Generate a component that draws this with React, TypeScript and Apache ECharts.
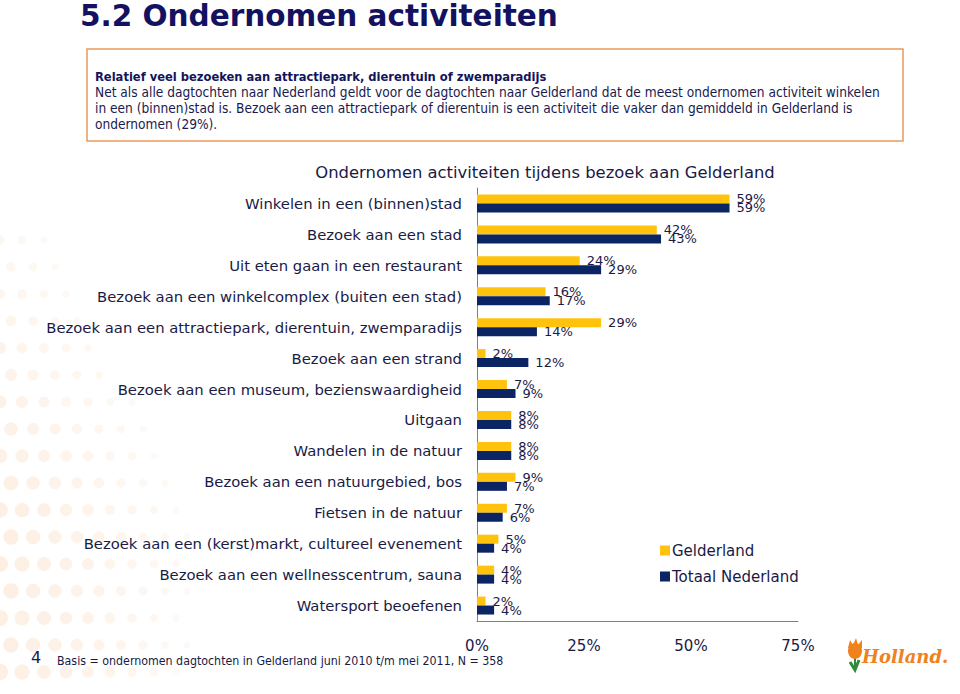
import React, { useEffect, useRef } from "react";
import * as echarts from "echarts";

const categories = [
  "Winkelen in een (binnen)stad",
  "Bezoek aan een stad",
  "Uit eten gaan in een restaurant",
  "Bezoek aan een winkelcomplex (buiten een stad)",
  "Bezoek aan een attractiepark, dierentuin, zwemparadijs",
  "Bezoek aan een strand",
  "Bezoek aan een museum, bezienswaardigheid",
  "Uitgaan",
  "Wandelen in de natuur",
  "Bezoek aan een natuurgebied, bos",
  "Fietsen in de natuur",
  "Bezoek aan een (kerst)markt, cultureel evenement",
  "Bezoek aan een wellnesscentrum, sauna",
  "Watersport beoefenen",
];
const gelderland = [59, 42, 24, 16, 29, 2, 7, 8, 8, 9, 7, 5, 4, 2];
const totaalNederland = [59, 43, 29, 17, 14, 12, 9, 8, 8, 7, 6, 4, 4, 4];
const seriesNames = ["Gelderland", "Totaal Nederland"];
const xMin = 0;
const xMax = 75;
const xInterval = 25;

const pageTitle = "5.2 Ondernomen activiteiten";
const boxHeading = "Relatief veel bezoeken aan attractiepark, dierentuin of zwemparadijs";
const boxLines = [
  "Net als alle dagtochten naar Nederland geldt voor de dagtochten naar Gelderland dat de meest ondernomen activiteit winkelen",
  "in een (binnen)stad is. Bezoek aan een attractiepark of dierentuin is een activiteit die vaker dan gemiddeld in Gelderland is",
  "ondernomen (29%).",
];
const chartTitle = "Ondernomen activiteiten tijdens bezoek aan Gelderland";
const footnote = "Basis = ondernomen dagtochten in Gelderland juni 2010 t/m mei 2011, N = 358";
const pageNumber = "4";

const YELLOW = "#FFC30D";
const NAVY = "#0B2464";
const TEXT = "#1a1a45";

function dotPattern() {
  const els: any[] = [];
  // faint decorative dot pattern on the left side of the slide
  for (let r = 0; r < 17; r++) {
    for (let c = 0; c < 10; c++) {
      const x = c * 22 + (r % 2) * 11;
      const y = 240 + r * 27;
      const fade = Math.max(0, 1 - x / 210 - Math.max(0, 520 - y) / 420);
      if (fade <= 0.08) continue;
      els.push({
        type: "circle",
        silent: true,
        z: -10,
        shape: { cx: x, cy: y, r: 3 + 5 * fade },
        style: { fill: "#FBE1CB", opacity: 0.15 + 0.4 * fade },
      });
    }
  }
  return els;
}

export default function App() {
  const ref = useRef<HTMLDivElement>(null);
  useEffect(() => {
    const chart = echarts.init(ref.current!, null, { renderer: "svg" });
    const boxFont = "'DejaVu Sans Condensed', 'Liberation Sans', sans-serif";
    const sans = "'DejaVu Sans', Verdana, sans-serif";
    const graphics: any[] = [
      ...dotPattern(),
      {
        type: "text",
        x: 80,
        y: 16,
        style: {
          text: pageTitle,
          font: `bold 29.5px ${sans}`,
          fill: "#121260",
          verticalAlign: "middle",
        },
      },
      {
        type: "rect",
        shape: { x: 87, y: 49, width: 816, height: 92 },
        style: { fill: "#ffffff", stroke: "#E99B5C", lineWidth: 1.5 },
      },
      {
        type: "text",
        x: 95,
        y: 76,
        style: {
          text: boxHeading,
          font: `bold 12.8px ${boxFont}`,
          fill: "#14145a",
          verticalAlign: "middle",
        },
      },
      ...boxLines.map((t, i) => ({
        type: "text",
        x: 95,
        y: 92 + i * 16,
        style: {
          text: t,
          font: `13.6px ${boxFont}`,
          fill: "#1a1a50",
          verticalAlign: "middle",
        },
      })),
      {
        type: "text",
        x: 545,
        y: 172,
        style: {
          text: chartTitle,
          font: `16.4px ${sans}`,
          fill: TEXT,
          align: "center",
          verticalAlign: "middle",
        },
      },
      {
        type: "text",
        x: 31,
        y: 657,
        style: {
          text: pageNumber,
          font: `16px ${sans}`,
          fill: TEXT,
          verticalAlign: "middle",
        },
      },
      {
        type: "text",
        x: 57,
        y: 661,
        style: {
          text: footnote,
          font: `12.3px ${boxFont}`,
          fill: TEXT,
          verticalAlign: "middle",
        },
      },
      // Holland logo
      {
        type: "group",
        x: 846,
        y: 636,
        children: [
          { type: "polyline", shape: { points: [[4, 26], [9, 34], [13, 24]] }, style: { stroke: "#2E8B3A", lineWidth: 3, fill: null } },
          { type: "line", shape: { x1: 9, y1: 34, x2: 9, y2: 22 }, style: { stroke: "#2E8B3A", lineWidth: 2 } },
          { type: "ellipse", shape: { cx: 9, cy: 15, rx: 7, ry: 8 }, style: { fill: "#F0821E" } },
          { type: "polygon", shape: { points: [[2, 12], [4, 4], [7, 9], [10, 2], [12, 9], [16, 4], [16, 12]] }, style: { fill: "#F0821E" } },
        ],
      },
      {
        type: "text",
        x: 862,
        y: 656,
        style: {
          text: "Holland.",
          font: "italic bold 18px 'DejaVu Serif', serif",
          fill: "#F0821E",
          verticalAlign: "middle",
        },
      },
    ];

    chart.setOption({
      animation: false,
      backgroundColor: "#ffffff",
      grid: { left: 477, right: 162, top: 188, bottom: 73, containLabel: false },
      legend: {
        orient: "vertical",
        left: 655,
        top: 538,
        itemWidth: 10,
        itemHeight: 10,
        itemGap: 11,
        icon: "rect",
        data: seriesNames,
        textStyle: { fontSize: 15, color: TEXT, fontFamily: sans, padding: [0, 0, 0, -3] },
      },
      xAxis: {
        type: "value",
        min: xMin,
        max: xMax,
        interval: xInterval,
        axisLine: { show: true, lineStyle: { color: "#808080", width: 1 } },
        axisTick: { show: false },
        splitLine: { show: false },
        axisLabel: {
          formatter: "{value}%",
          margin: 17,
          fontSize: 15,
          color: TEXT,
          fontFamily: sans,
        },
      },
      yAxis: {
        type: "category",
        data: categories,
        inverse: true,
        axisLine: { show: true, lineStyle: { color: "#808080", width: 1 } },
        axisTick: { show: false },
        axisLabel: {
          margin: 15,
          fontSize: 14.8,
          color: TEXT,
          fontFamily: sans,
        },
      },
      series: [
        {
          name: seriesNames[0],
          type: "bar",
          data: gelderland,
          barWidth: 9,
          barGap: "0%",
          itemStyle: { color: YELLOW },
          label: {
            show: true,
            position: "right",
            distance: 7,
            formatter: "{c}%",
            fontSize: 13,
            color: TEXT,
            fontFamily: sans,
          },
        },
        {
          name: seriesNames[1],
          type: "bar",
          data: totaalNederland,
          barWidth: 9,
          barGap: "0%",
          itemStyle: { color: NAVY },
          label: {
            show: true,
            position: "right",
            distance: 7,
            formatter: "{c}%",
            fontSize: 13,
            color: TEXT,
            fontFamily: sans,
          },
        },
      ],
      graphic: graphics,
    });
    return () => chart.dispose();
  }, []);
  return (
    <div
      ref={ref}
      style={{ position: "absolute", left: 0, top: 0, width: 960, height: 694 }}
    />
  );
}
